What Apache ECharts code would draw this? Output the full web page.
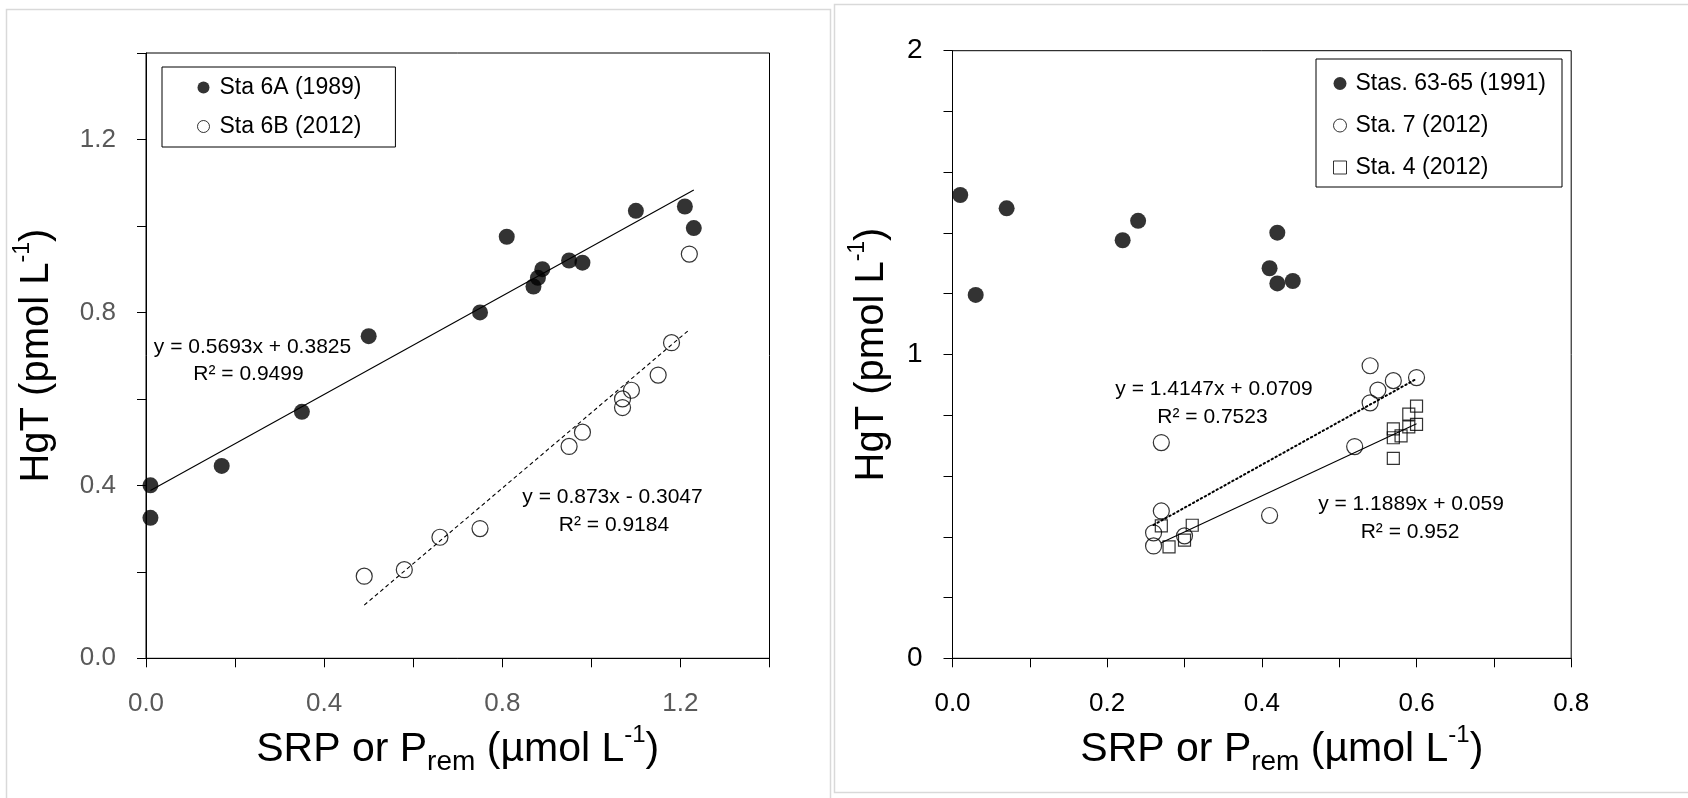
<!DOCTYPE html>
<html>
<head>
<meta charset="utf-8">
<script src="https://cdn.jsdelivr.net/npm/echarts@6/dist/echarts.min.js"></script>
<style>
html,body{margin:0;padding:0;background:#fff;}
#chart{width:1688px;height:798px;}
</style>
</head>
<body>
<div id="chart"></div>
<script>
// ---- Left panel data ----
const sta6A_x = [0.01, 0.01, 0.17, 0.35, 0.50, 0.75, 0.81, 0.87, 0.88, 0.89, 0.95, 0.98, 1.10, 1.21, 1.23];
const sta6A_y = [0.40, 0.325, 0.445, 0.57, 0.745, 0.80, 0.975, 0.86, 0.88, 0.90, 0.92, 0.915, 1.035, 1.045, 0.995];
const sta6B_x = [0.49, 0.58, 0.66, 0.75, 0.95, 0.98, 1.07, 1.07, 1.09, 1.15, 1.18, 1.22];
const sta6B_y = [0.19, 0.205, 0.28, 0.30, 0.49, 0.523, 0.58, 0.60, 0.62, 0.655, 0.73, 0.935];
const fit6A = [[0.01, 0.388], [1.23, 1.083]];
const fit6B = [[0.49, 0.123], [1.22, 0.760]];

// ---- Right panel data ----
const sta63_x = [0.01, 0.03, 0.07, 0.22, 0.24, 0.41, 0.42, 0.42, 0.44];
const sta63_y = [1.525, 1.196, 1.481, 1.376, 1.44, 1.284, 1.401, 1.234, 1.242];
const sta7_x = [0.26, 0.26, 0.27, 0.27, 0.30, 0.41, 0.52, 0.54, 0.54, 0.55, 0.57, 0.60];
const sta7_y = [0.37, 0.413, 0.485, 0.71, 0.403, 0.47, 0.697, 0.841, 0.963, 0.883, 0.914, 0.924];
const sta4_x = [0.27, 0.28, 0.30, 0.31, 0.57, 0.57, 0.57, 0.58, 0.59, 0.59, 0.60, 0.60];
const sta4_y = [0.436, 0.367, 0.389, 0.438, 0.658, 0.726, 0.755, 0.732, 0.762, 0.804, 0.77, 0.83];
const fit7 = [[0.26, 0.439], [0.60, 0.920]];
const fit4 = [[0.27, 0.380], [0.60, 0.772]];

// ---- Names / texts ----
const seriesNames = ['Sta 6A (1989)', 'Sta 6B (2012)', 'Stas. 63-65 (1991)', 'Sta. 7 (2012)', 'Sta. 4 (2012)'];
const eqLeft = ['y = 0.5693x + 0.3825', 'R\u00b2 = 0.9499', 'y = 0.873x - 0.3047', 'R\u00b2 = 0.9184'];
const eqRight = ['y = 1.4147x + 0.0709', 'R\u00b2 = 0.7523', 'y = 1.1889x + 0.059', 'R\u00b2 = 0.952'];

const FF = '"Liberation Sans", Arial, Helvetica, sans-serif';
const pts = (xs, ys) => xs.map((x, i) => [x, ys[i]]);
const isMult = (v, m) => Math.abs(v / m - Math.round(v / m)) < 1e-6;

const xTitle = {
  n: {fontSize: 41, lineHeight: 53, fontFamily: FF, color: '#000'},
  sub: {fontSize: 28, lineHeight: 28, fontFamily: FF, color: '#000', verticalAlign: 'bottom'},
  sup: {fontSize: 24, lineHeight: 41, fontFamily: FF, color: '#000', verticalAlign: 'top'}
};
const yTitle = {
  n: {fontSize: 40, lineHeight: 52, fontFamily: FF, color: '#000'},
  sup: {fontSize: 23, lineHeight: 40, fontFamily: FF, color: '#000', verticalAlign: 'top'}
};
const xName = '{n|SRP or P}{sub|rem}{n| (\u00b5mol L}{sup|-1}{n|)}';
const yName = '{n|HgT (pmol L}{sup|-1}{n|)}';

const hollow = {color: 'rgba(0,0,0,0)', borderColor: '#000', borderWidth: 1.2};
const filled = {color: '#000'};

function annot(text, x, y) {
  return {type: 'text', x: x, y: y, silent: true, z: 50,
    style: {text: text, fontSize: 21, fontFamily: FF, fill: '#000', align: 'center', verticalAlign: 'middle'}};
}

const option = {
  animation: false,
  backgroundColor: '#fff',
  grid: [
    {left: 146, top: 53, width: 623.5, height: 605.3, show: true, borderColor: '#000', borderWidth: 1, backgroundColor: 'rgba(0,0,0,0)'},
    {left: 952.5, top: 50.7, width: 618.7, height: 607.6, show: true, borderColor: '#000', borderWidth: 1, backgroundColor: 'rgba(0,0,0,0)'}
  ],
  xAxis: [
    {type: 'value', gridIndex: 0, min: 0, max: 1.4, interval: 0.2,
      axisLine: {lineStyle: {color: '#000', width: 1}}, axisTick: {length: 9, lineStyle: {color: '#000'}},
      splitLine: {show: false},
      axisLabel: {fontSize: 26, fontFamily: FF, color: '#595959', margin: 33,
        formatter: v => isMult(v, 0.4) ? v.toFixed(1) : ''},
      name: xName, nameLocation: 'middle', nameGap: 65, nameTextStyle: {rich: xTitle}},
    {type: 'value', gridIndex: 1, min: 0, max: 0.8, interval: 0.1,
      axisLine: {lineStyle: {color: '#000', width: 1}}, axisTick: {length: 9, lineStyle: {color: '#000'}},
      splitLine: {show: false},
      axisLabel: {fontSize: 26, fontFamily: FF, color: '#000', margin: 33,
        formatter: v => isMult(v, 0.2) ? v.toFixed(1) : ''},
      name: xName, nameLocation: 'middle', nameGap: 65, nameTextStyle: {rich: xTitle, padding: [0, 0, 0, 40]}}
  ],
  yAxis: [
    {type: 'value', gridIndex: 0, min: 0, max: 1.4, interval: 0.2,
      axisLine: {lineStyle: {color: '#000', width: 1}}, axisTick: {length: 9, lineStyle: {color: '#000'}},
      splitLine: {show: false},
      axisLabel: {fontSize: 26, fontFamily: FF, color: '#595959', margin: 30,
        formatter: v => isMult(v, 0.4) ? v.toFixed(1) : ''},
      name: yName, nameLocation: 'middle', nameRotate: 90, nameGap: 83, nameTextStyle: {rich: yTitle}},
    {type: 'value', gridIndex: 1, min: 0, max: 2, interval: 0.2,
      axisLine: {lineStyle: {color: '#000', width: 1}}, axisTick: {length: 9, lineStyle: {color: '#000'}},
      splitLine: {show: false},
      axisLabel: {fontSize: 28, fontFamily: FF, color: '#000', margin: 30,
        formatter: v => isMult(v, 1) ? String(Math.round(v)) : ''},
      name: yName, nameLocation: 'middle', nameRotate: 90, nameGap: 54.5, nameTextStyle: {rich: yTitle}}
  ],
  legend: [
    {orient: 'vertical', left: 162, top: 67, padding: [9, 34, 9, 35], itemGap: 16,
      itemWidth: 12, itemHeight: 12, borderColor: '#000', borderWidth: 1, backgroundColor: '#fff',
      textStyle: {fontSize: 23, lineHeight: 23, fontFamily: FF, color: '#000', padding: [0, 0, 0, 5]},
      selectedMode: false,
      data: [
        {name: seriesNames[0], icon: 'circle', itemStyle: {color: '#000', borderWidth: 0}},
        {name: seriesNames[1], icon: 'circle', itemStyle: {color: 'rgba(0,0,0,0)', borderColor: '#000', borderWidth: 1}}
      ]},
    {orient: 'vertical', left: 1316, top: 59, padding: [13, 16, 8, 17], itemGap: 19,
      itemWidth: 13, itemHeight: 13, borderColor: '#000', borderWidth: 1, backgroundColor: '#fff',
      textStyle: {fontSize: 23, lineHeight: 23, fontFamily: FF, color: '#000', padding: [0, 0, 0, 4]},
      selectedMode: false,
      data: [
        {name: seriesNames[2], icon: 'circle', itemStyle: {color: '#000', borderWidth: 0}},
        {name: seriesNames[3], icon: 'circle', itemStyle: {color: 'rgba(0,0,0,0)', borderColor: '#000', borderWidth: 1}},
        {name: seriesNames[4], icon: 'rect', itemStyle: {color: 'rgba(0,0,0,0)', borderColor: '#000', borderWidth: 1}}
      ]}
  ],
  series: [
    {type: 'scatter', name: seriesNames[0], xAxisIndex: 0, yAxisIndex: 0, symbol: 'circle', symbolSize: 16,
      itemStyle: filled, data: pts(sta6A_x, sta6A_y), silent: true},
    {type: 'scatter', name: seriesNames[1], xAxisIndex: 0, yAxisIndex: 0, symbol: 'circle', symbolSize: 16,
      itemStyle: hollow, data: pts(sta6B_x, sta6B_y), silent: true},
    {type: 'line', name: 'fit6A', xAxisIndex: 0, yAxisIndex: 0, symbol: 'none', z: 5, silent: true,
      lineStyle: {color: '#000', width: 1.1, type: 'solid'}, data: fit6A},
    {type: 'line', name: 'fit6B', xAxisIndex: 0, yAxisIndex: 0, symbol: 'none', z: 5, silent: true,
      lineStyle: {color: '#000', width: 1.1, type: [4, 3]}, data: fit6B},

    {type: 'scatter', name: seriesNames[2], xAxisIndex: 1, yAxisIndex: 1, symbol: 'circle', symbolSize: 16,
      itemStyle: filled, data: pts(sta63_x, sta63_y), silent: true},
    {type: 'scatter', name: seriesNames[3], xAxisIndex: 1, yAxisIndex: 1, symbol: 'circle', symbolSize: 16,
      itemStyle: hollow, data: pts(sta7_x, sta7_y), silent: true},
    {type: 'scatter', name: seriesNames[4], xAxisIndex: 1, yAxisIndex: 1, symbol: 'rect', symbolSize: 12,
      itemStyle: hollow, data: pts(sta4_x, sta4_y), silent: true},
    {type: 'line', name: 'fit7', xAxisIndex: 1, yAxisIndex: 1, symbol: 'none', z: 5, silent: true,
      lineStyle: {color: '#000', width: 2, type: [1.5, 3], cap: 'round'}, data: fit7},
    {type: 'line', name: 'fit4', xAxisIndex: 1, yAxisIndex: 1, symbol: 'none', z: 5, silent: true,
      lineStyle: {color: '#000', width: 1.1, type: 'solid'}, data: fit4}
  ],
  graphic: [
    {type: 'rect', silent: true, z: -10, shape: {x: 6.5, y: 9.5, width: 824, height: 820},
      style: {fill: 'none', stroke: '#d9d9d9', lineWidth: 1.5}},
    {type: 'rect', silent: true, z: -10, shape: {x: 834.5, y: 4.5, width: 900, height: 788},
      style: {fill: 'none', stroke: '#d9d9d9', lineWidth: 1.5}},
    annot(eqLeft[0], 252.5, 347),
    annot(eqLeft[1], 248.5, 374),
    annot(eqLeft[2], 612.5, 497.5),
    annot(eqLeft[3], 614, 525),
    annot(eqRight[0], 1214, 389.5),
    annot(eqRight[1], 1212.5, 417.5),
    annot(eqRight[2], 1411, 504),
    annot(eqRight[3], 1410, 532.7)
  ]
};

const chart = echarts.init(document.getElementById('chart'), null, {renderer: 'canvas'});
chart.setOption(option);
</script>
</body>
</html>
